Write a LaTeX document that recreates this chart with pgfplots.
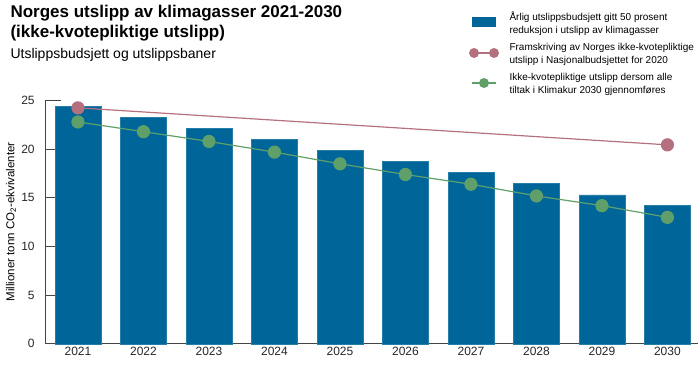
\documentclass[border=0pt]{standalone}
\usepackage{pgfplots}
\pgfplotsset{compat=1.18}
\usepackage{fontspec}
\setmainfont{Liberation Sans}
\definecolor{barblue}{HTML}{006699}
\definecolor{pinkline}{HTML}{B5707F}
\definecolor{greenline}{HTML}{5FA06A}
\definecolor{axisgray}{HTML}{444444}
\begin{document}
\begin{tikzpicture}[x=1pt,y=1pt]
\useasboundingbox (0,0) rectangle (700,364);
% titles
\node[anchor=base west,font=\bfseries\fontsize{17}{20}\selectfont] at (7,346) {Norges utslipp av klimagasser 2021-2030};
\node[anchor=base west,font=\bfseries\fontsize{17}{20}\selectfont] at (7,326) {(ikke-kvotepliktige utslipp)};
\node[anchor=base west,font=\fontsize{14}{16}\selectfont] at (7,305) {Utslippsbudsjett og utslippsbaner};
\begin{axis}[
  at={(69,20.7)}, anchor=south west,
  scale only axis, width=653, height=243.3,
  xmin=-0.5, xmax=9.47, ymin=0, ymax=25,
  axis lines=left,
  axis line style={-, axisgray, line width=0.8pt},
  xtick={0,...,9},
  xticklabels={2021,2022,2023,2024,2025,2026,2027,2028,2029,2030},
  minor xtick={0.5,1.5,...,8.5},
  ytick={0,5,...,25},
  tick align=inside,
  major tick length=16pt,
  minor tick length=6pt,
  xtick style={draw=none},
  minor x tick style={axisgray, line width=0.8pt},
  ytick style={axisgray, line width=0.8pt},
  ticklabel style={font=\fontsize{12}{14}\selectfont, text=black!85},
  yticklabel style={xshift=-7pt},
  /pgf/number format/assume math mode=true,
  clip=false,
]
\addplot[ybar, bar width=0.7, fill=barblue, draw=barblue!85!white, line width=0.6pt, bar shift=0]
  coordinates {(0,24.4) (1,23.3) (2,22.15) (3,21.0) (4,19.9) (5,18.75) (6,17.6) (7,16.45) (8,15.3) (9,14.2)};
\addplot[pinkline, line width=1.2pt, mark=*, mark size=6pt, mark options={fill=pinkline, draw=none}]
  coordinates {(0,24.25) (9,20.45)};
\addplot[greenline, line width=1.2pt, mark=*, mark size=6pt, mark options={fill=greenline, draw=none}]
  coordinates {(0,22.8) (1,21.8) (2,20.8) (3,19.7) (4,18.5) (5,17.4) (6,16.4) (7,15.2) (8,14.2) (9,13.0)};
\end{axis}
\node[rotate=90, font=\fontsize{11.5}{14}\selectfont] at (11,142) {Millioner tonn CO\textsubscript{2}-ekvivalenter};
% legend
\fill[barblue] (472,337) rectangle (496,347);
\draw[pinkline, line width=1.2pt] (474,311) -- (494,311);
\fill[pinkline] (474,311) circle (5);
\fill[pinkline] (494,311) circle (5);
\draw[greenline, line width=1.2pt] (472,281) -- (496,281);
\fill[greenline] (484,281) circle (5);
\begin{scope}[every node/.style={anchor=base west, font=\fontsize{10}{13}\selectfont, align=left}]
\node at (506,343) {Årlig utslippsbudsjett gitt 50 prosent};
\node at (506,330) {reduksjon i utslipp av klimagasser};
\node at (506,313) {Framskriving av Norges ikke-kvotepliktige};
\node at (506,300) {utslipp i Nasjonalbudsjettet for 2020};
\node at (506,283) {Ikke-kvotepliktige utslipp dersom alle};
\node at (506,270) {tiltak i Klimakur 2030 gjennomføres};
\end{scope}
\end{tikzpicture}
\end{document}
